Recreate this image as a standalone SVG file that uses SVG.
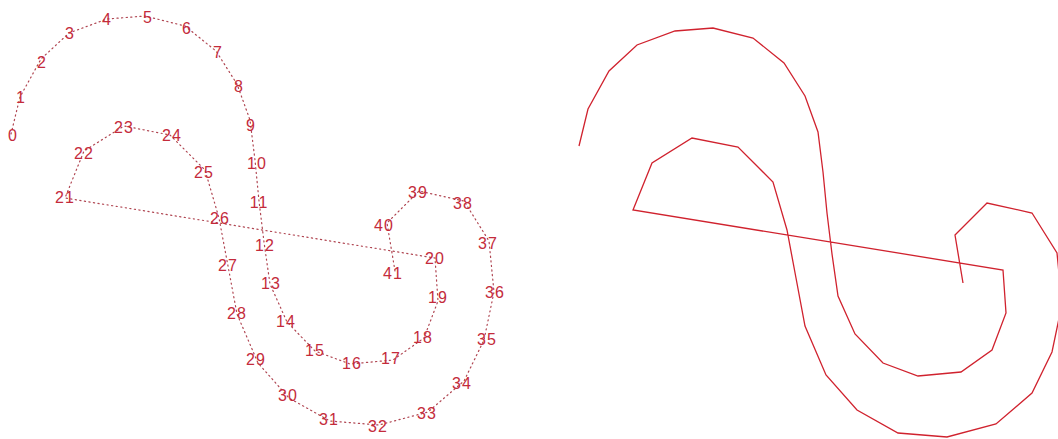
<svg xmlns="http://www.w3.org/2000/svg" width="1058" height="439" viewBox="0 0 1058 439">
<style>
.dots{fill:none;stroke:#b04652;stroke-width:1.2;stroke-dasharray:1.2 3.4;stroke-linecap:round}
.solid{fill:none;stroke:#d0222e;stroke-width:1.3;stroke-linejoin:miter}
.lbl{font-family:"Liberation Sans",Arial,sans-serif;font-size:16px;fill:#c42b3b;text-anchor:middle;letter-spacing:1px}
</style>
<rect width="1058" height="439" fill="#ffffff"/>
<g id="connectors">
<polyline id="dotted-path" class="dots" points="11,134 20,97 41,59 69,33 107,19 145,16 185,26 216,51 237,84 250,120 255,160 259,201 264,242 270,284 287,322 315,351 350,364 393,360 424,338 438,301 435,258 65,198 84,151 124,126 170,135 205,170 219,218 228,266 237,314 258,363 289,398 330,421 379,425 428,412 464,381 484,340 494,292 489,241 464,201 419,191 387,223 395,271"/>
<polyline id="solid-path" class="solid" points="579,146 588,109 609,71 637,45 675,31 713,28 753,38 784,63 805,96 818,132 823,172 827,213 832,254 838,296 855,334 883,363 918,376 961,372 992,350 1006,313 1003,270 633,210 652,163 692,138 738,147 773,182 787,230 796,278 805,326 826,375 857,410 898,433 947,437 996,424 1032,393 1052,352 1062,304 1057,253 1032,213 987,203 955,235 963,283"/>
</g>
<g id="labels" class="lbl">
<g id="p0"><text x="13" y="141">0</text></g>
<g id="p1"><text x="21" y="103">1</text></g>
<g id="p2"><text x="42" y="68">2</text></g>
<g id="p3"><text x="70" y="39">3</text></g>
<g id="p4"><text x="107" y="25">4</text></g>
<g id="p5"><text x="148" y="23">5</text></g>
<g id="p6"><text x="187" y="34">6</text></g>
<g id="p7"><text x="218" y="58">7</text></g>
<g id="p8"><text x="239" y="92">8</text></g>
<g id="p9"><text x="251" y="131">9</text></g>
<g id="p10"><text x="257" y="169">10</text></g>
<g id="p11"><text x="259" y="208">11</text></g>
<g id="p12"><text x="265" y="251">12</text></g>
<g id="p13"><text x="271" y="289">13</text></g>
<g id="p14"><text x="286" y="327">14</text></g>
<g id="p15"><text x="315" y="356">15</text></g>
<g id="p16"><text x="352" y="369">16</text></g>
<g id="p17"><text x="391" y="364">17</text></g>
<g id="p18"><text x="423" y="343">18</text></g>
<g id="p19"><text x="438" y="303">19</text></g>
<g id="p20"><text x="435" y="264">20</text></g>
<g id="p21"><text x="65" y="203">21</text></g>
<g id="p22"><text x="84" y="159">22</text></g>
<g id="p23"><text x="124" y="133">23</text></g>
<g id="p24"><text x="172" y="141">24</text></g>
<g id="p25"><text x="204" y="178">25</text></g>
<g id="p26"><text x="220" y="224">26</text></g>
<g id="p27"><text x="228" y="271">27</text></g>
<g id="p28"><text x="237" y="319">28</text></g>
<g id="p29"><text x="256" y="365">29</text></g>
<g id="p30"><text x="288" y="401">30</text></g>
<g id="p31"><text x="329" y="425">31</text></g>
<g id="p32"><text x="378" y="432">32</text></g>
<g id="p33"><text x="427" y="419">33</text></g>
<g id="p34"><text x="462" y="389">34</text></g>
<g id="p35"><text x="487" y="345">35</text></g>
<g id="p36"><text x="495" y="298">36</text></g>
<g id="p37"><text x="488" y="249">37</text></g>
<g id="p38"><text x="463" y="209">38</text></g>
<g id="p39"><text x="418" y="198">39</text></g>
<g id="p40"><text x="384" y="231">40</text></g>
<g id="p41"><text x="393" y="279">41</text></g>
</g>
</svg>
